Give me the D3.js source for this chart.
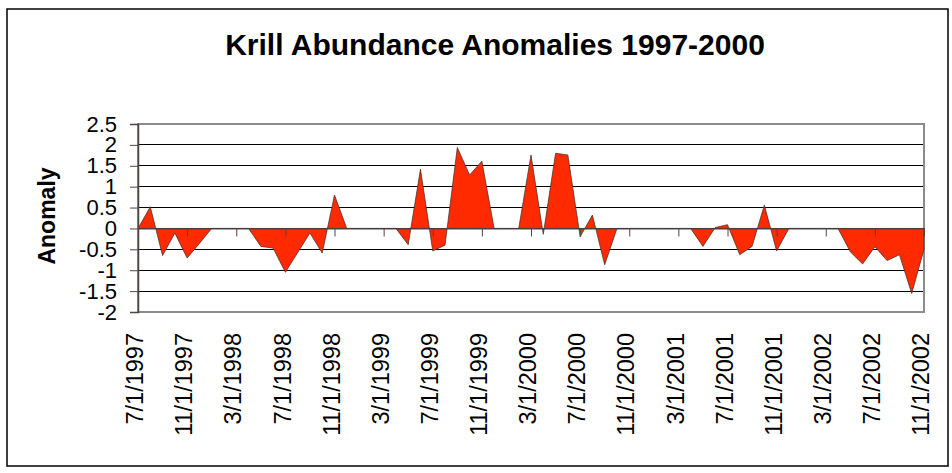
<!DOCTYPE html>
<html>
<head>
<meta charset="utf-8">
<script src="https://cdn.jsdelivr.net/npm/d3@7"></script>
<style>
  body { margin: 0; background: #fff; }
  text { font-family: "Liberation Sans", Arial, sans-serif; fill: #000; }
</style>
</head>
<body>
<div id="chart"></div>
<script>
// months shown on the category axis (7/1997 .. 11/2002)
var months = [];
for (var i = 0; i < 65; i++) {
  var m = (6 + i) % 12 + 1, yr = 1997 + Math.floor((6 + i) / 12);
  months.push(m + "/1/" + yr);
}

// anomaly values, one per month (blank months plotted as 0)
var anomaly = [
  0, 0.52, -0.65, -0.11, -0.71, -0.36, 0, 0, 0, 0,
  -0.43, -0.47, -1.05, -0.58, -0.11, -0.59, 0.8, 0, 0, 0,
  0, 0, -0.39, 1.42, -0.54, -0.40, 1.94, 1.28, 1.61, 0,
  0, 0, 1.76, -0.14, 1.8, 1.76, -0.2, 0.32, -0.87, 0,
  0, 0, 0, 0, 0, 0, -0.43, 0.02, 0.09, -0.63,
  -0.43, 0.56, -0.54, 0, 0, 0, 0, 0, -0.56, -0.85,
  -0.44, -0.77, -0.63, -1.56, -0.5
];

// y tick values
var yTicks = [-2, -1.5, -1, -0.5, 0, 0.5, 1, 1.5, 2, 2.5];

// x tick labels, every fourth month
var xTicks = months.filter(function(d, i) { return i % 4 === 0; });

var data = months.map(function(d, i) { return {month: d, value: anomaly[i]}; });

var W = 952, H = 473;
var plot = {left: 138, right: 924, top: 124, bottom: 312};

var svg = d3.select("#chart")
  .append("svg")
    .attr("width", W)
    .attr("height", H);

// outer chart border
svg.append("rect")
  .attr("x", 7).attr("y", 9)
  .attr("width", 941).attr("height", 457)
  .attr("fill", "none")
  .attr("stroke", "#000")
  .attr("stroke-width", 1.5);

var x = d3.scalePoint()
  .domain(months)
  .range([plot.left, plot.right]);

var y = d3.scaleLinear()
  .domain([-2, 2.5])
  .range([plot.bottom, plot.top]);

// gridlines
svg.append("g")
  .selectAll("line")
  .data(yTicks.filter(function(d) { return d > -2 && d < 2.5; }))
  .enter()
  .append("line")
    .attr("x1", plot.left).attr("x2", plot.right)
    .attr("y1", function(d) { return y(d); })
    .attr("y2", function(d) { return y(d); })
    .attr("stroke", "#000")
    .attr("stroke-width", 1)
    .attr("shape-rendering", "crispEdges");

// plot area border
svg.append("rect")
  .attr("x", plot.left).attr("y", plot.top)
  .attr("width", plot.right - plot.left)
  .attr("height", plot.bottom - plot.top)
  .attr("fill", "none")
  .attr("stroke", "#8c8c8c")
  .attr("stroke-width", 1.5)
  .attr("shape-rendering", "crispEdges");

// area
var area = d3.area()
  .x(function(d) { return x(d.month); })
  .y0(y(0))
  .y1(function(d) { return y(d.value); });

svg.append("path")
  .datum(data)
  .attr("d", area)
  .attr("fill", "#ff2a00")
  .attr("stroke", "#3a2a2a")
  .attr("stroke-width", 0.7);

// Y axis
var yAxis = svg.append("g")
  .attr("transform", "translate(" + plot.left + ",0)")
  .call(d3.axisLeft(y)
    .tickValues(yTicks)
    .tickSize(8)
    .tickPadding(13)
    .tickFormat(function(d) { return String(d); }));
yAxis.select(".domain").attr("stroke", "#504545").attr("stroke-width", 1.5);
yAxis.selectAll(".tick line").attr("stroke", "#504545");
yAxis.selectAll("text")
  .style("font-size", "22px")
  .attr("fill", "#000");

// X axis on the zero line (ticks only, labels drawn below the plot)
var xAxis = svg.append("g")
  .attr("transform", "translate(0," + y(0) + ")")
  .call(d3.axisBottom(x)
    .tickValues(xTicks)
    .tickSize(8)
    .tickSizeOuter(0)
    .tickFormat(""));
xAxis.select(".domain").attr("stroke", "#504545").attr("stroke-width", 1.2);
xAxis.selectAll(".tick line").attr("stroke", "#504545");

// x tick labels
svg.append("g")
  .selectAll("text")
  .data(xTicks)
  .enter()
  .append("text")
    .attr("transform", function(d) { return "translate(" + (x(d) - 3) + ",333)rotate(-90)"; })
    .attr("text-anchor", "end")
    .attr("dy", "0.35em")
    .style("font-size", "23.5px")
    .text(function(d) { return d; });

// title
svg.append("text")
  .attr("x", 495).attr("y", 55)
  .attr("text-anchor", "middle")
  .style("font-size", "30px")
  .style("font-weight", "bold")
  .text("Krill Abundance Anomalies 1997-2000");

// y axis label
svg.append("text")
  .attr("transform", "translate(55,216)rotate(-90)")
  .attr("text-anchor", "middle")
  .style("font-size", "23px")
  .style("font-weight", "bold")
  .text("Anomaly");
</script>
</body>
</html>
